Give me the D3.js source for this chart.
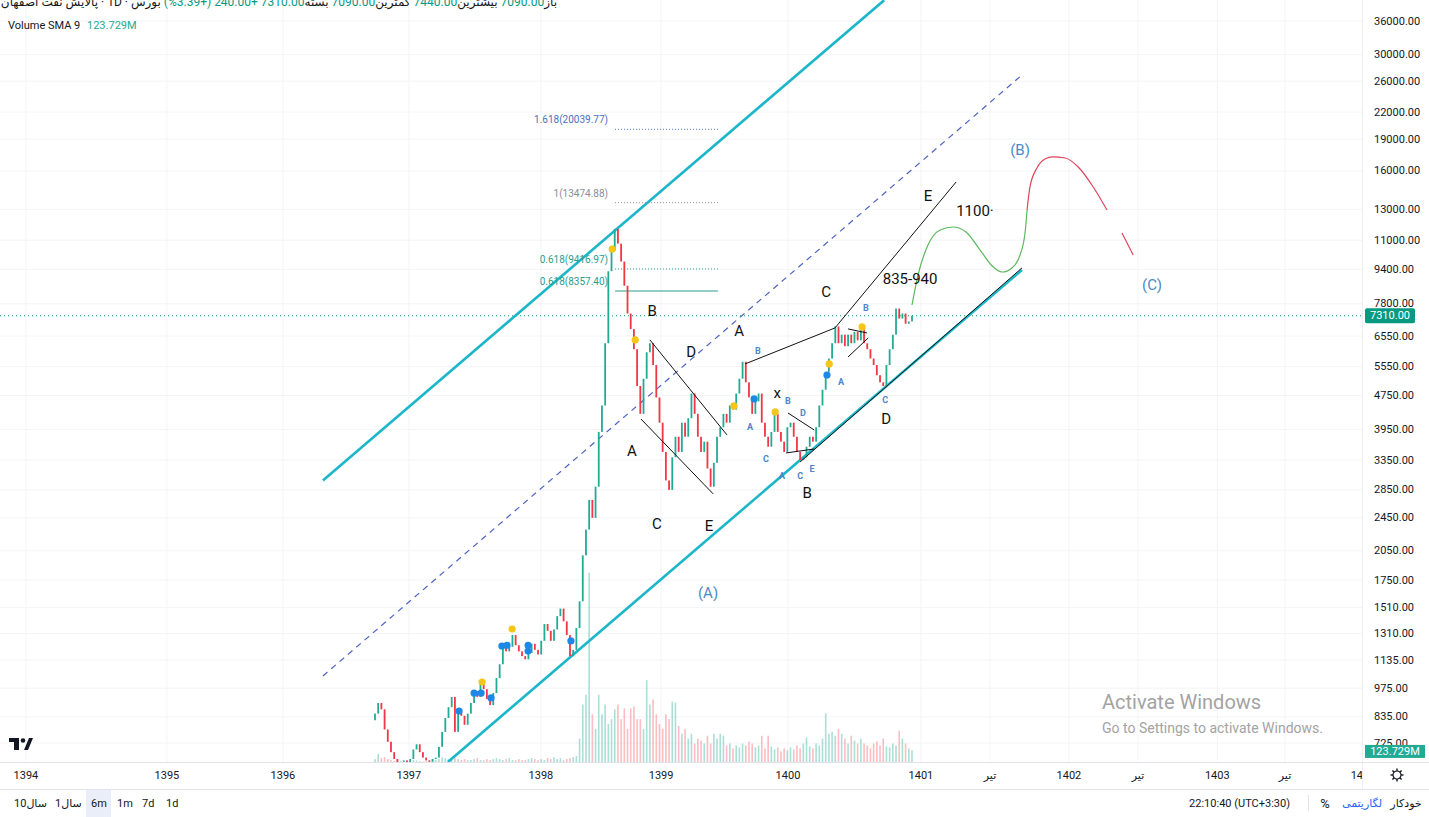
<!DOCTYPE html>
<html lang="fa">
<head>
<meta charset="UTF-8">
<title>پالایش نفت اصفهان</title>
<script src="https://cdn.jsdelivr.net/npm/d3@7"></script>
<style>
  body { margin: 0; background: #fff; overflow: hidden; }
  svg { display: block; font-family: Roboto, "DejaVu Sans", sans-serif; }
  #legend { position: absolute; left: 0; top: -5px; width: 557px; direction: rtl; text-align: right;
            font: 12px Roboto, "DejaVu Sans", sans-serif; color: #131722; white-space: nowrap; }
  #legend .v { color: #089981; }
</style>
</head>
<body>
<svg id="chart" width="1429" height="817"></svg>
<div id="legend"></div>
<script>
// ---- data (bar index = one candle) ----
var closes = [850, 900, 870, 780, 730, 690, 665, 650, 655, 660, 650, 665, 700, 720, 690, 670, 660, 655, 665,
  670, 710, 770, 830, 880, 930, 770, 860, 840, 800, 850, 900, 960, 930, 1010, 970, 920, 890, 950, 1030, 1110,
  1230, 1190, 1220, 1300, 1230, 1190, 1160, 1140, 1180, 1240, 1200, 1170, 1260, 1380, 1330, 1260, 1340, 1440, 1500, 1400,
  1300, 1160, 1200, 1350, 1560, 2000, 2300, 2700, 2450, 2900, 3900, 4500, 6300, 9300, 10400, 11700, 10800, 9800, 8600, 7400,
  6800, 6100, 5000, 4300, 5200, 6000, 6300, 5600, 4700, 4100, 3500, 3000, 2850, 3400, 3800, 3500, 4100, 3800, 4200, 4800,
  4300, 3800, 3500, 3700, 3200, 2900, 3300, 3800, 4000, 4300, 4100, 4500, 4400, 4800, 5200, 5700, 5100, 4700, 4300, 4600,
  4800, 4100, 3800, 3600, 3900, 4300, 3900, 3700, 3500, 4000, 4100, 3800, 3500, 3350, 3400, 3600, 3800, 3700, 4000, 4500,
  4900, 5400, 5800, 6300, 6900, 6300, 6600, 6200, 6600, 6300, 6700, 6400, 6800, 6300, 6100, 5800, 5600, 5300, 5100, 5000,
  5600, 6100, 6600, 7600, 7200, 7400, 7000, 7090, 7310];
var firstOpen = 820;

// volume, millions
var volumes = [40, 90, 50, 60, 40, 30, 20, 20, 15, 20, 25, 20, 30, 25, 20, 15, 20, 25, 30,
  30, 40, 60, 50, 40, 30, 50, 40, 30, 40, 30, 30, 40, 50, 30, 30, 40, 30, 40, 50, 40, 30, 40, 50, 30, 30,
  40, 30, 30, 40, 50, 40, 30, 40, 30, 50, 40, 60, 40, 50, 30, 40, 50, 60, 70,
  250, 600, 700, 1950, 500, 350, 700, 500, 600, 400, 450, 550, 600, 450, 560, 350, 560, 580, 450, 450, 350, 850, 600, 650, 500, 400, 350,
  500, 450, 630, 620, 380, 300, 350, 250, 300, 200, 250, 230, 200, 280, 200, 300, 250, 300, 280, 180, 200, 150, 180, 160, 200, 180,
  220, 200, 160, 180, 280, 150, 280, 170, 140, 160, 120, 150, 130, 160,
  140, 180, 150, 200, 260, 170, 150, 200, 180, 250, 510, 300, 320, 280, 350, 300, 250, 200, 280, 230, 200, 250, 200, 180, 150, 200,
  220, 180, 250, 170, 160, 200, 180, 330, 250, 200, 150, 130];
var volumeSma = 123.729;
var lastPrice = 7310;

var priceTicks = [36000, 30000, 26000, 22000, 19000, 16000, 13000, 11000, 9400, 7800, 6550, 5550, 4750, 3950,
  3350, 2850, 2450, 2050, 1750, 1510, 1310, 1135, 975, 835, 725];
var timeLabels = ['1394', '1395', '1396', '1397', '1398', '1399', '1400', '1401', 'تیر', '1402', 'تیر', '1403', 'تیر', '1404'];
var timeBars = [-109.2, -65.1, -28.8, 10.6, 51.9, 89.5, 129.2, 170.8, 192.4, 217.1, 238.7, 263.5, 284.7, 309.1];

// drawings, [bar, price]
var channel = [
  {from: [-16.3, 3000], to: [159.3, 40300], kind: 'solid'},
  {from: [-16.3, 1042], to: [202.4, 26885], kind: 'dash'},
  {from: [22.8, 654], to: [202.4, 9363], kind: 'solid'}
];
var waveLines = [
  [[86.0, 6415], [110.1, 3838]],
  [[83.2, 4183], [105.8, 2789]],
  [[115.8, 5634], [143.9, 6843]],
  [[143.9, 6843], [181.8, 15073]],
  [[133.0, 3315], [202.4, 9468]],
  [[129.2, 4320], [137.4, 3941]],
  [[128.6, 3481], [137.4, 3556]],
  [[148.0, 6808], [153.9, 6661]],
  [[148.0, 5850], [154.3, 6484]]
];
var pathUp = [[168.0, 7748], [169.9, 9115], [173.0, 10720], [176.8, 11625], [180.9, 11815], [184.9, 11500],
  [189.3, 10430], [193.1, 9570], [196.2, 9263], [199.3, 9468], [201.8, 10156], [203.4, 11500], [204.0, 12953]];
var pathDown = [[204.0, 12953], [204.9, 14670], [207.1, 16258], [209.6, 17068], [212.1, 17255], [215.9, 17160],
  [220.0, 16344], [224.7, 14670], [229.0, 12953]];
var pathDown2 = [[233.7, 11438], [237.2, 10156]];

var fibLabels = ['1.618(20039.77)', '1(13474.88)', '0.618(9416.97)', '0.618(8357.40)'];
var fibPrices = [20039.77, 13474.88, 9416.97, 8357.40];
var fibColors = ['#4a6fc0', '#8a8d96', '#2a9d8f', '#2a9d8f'];
var fibBars = [75.1, 107.3];

var bigLabels = [['E', 173.0, 13973], ['1100·', 187.7, 12885], ['835-940', 167.4, 8921], ['C', 141.1, 8313],
  ['A', 113.9, 6733], ['B', 86.7, 7502], ['D', 98.9, 6009], ['A', 80.4, 3517], ['C', 88.2, 2369],
  ['E', 104.5, 2344], ['x', 125.8, 4813], ['B', 135.2, 2805], ['D', 159.9, 4183]];
var degreeLabels = [['(B)', 201.8, 17917], ['(C)', 243.1, 8633], ['(A)', 104.2, 1632]];
var smallLabels = [['B', 153.6, 7626], ['B', 119.8, 6041], ['A', 145.8, 5109], ['C', 159.6, 4633], ['A', 117.3, 4008],
  ['B', 129.2, 4611], ['D', 133.9, 4320], ['C', 122.3, 3370], ['A', 127.3, 3074], ['C', 133.0, 3074], ['E', 136.7, 3193]];

var yellowDots = [[74.2, 10490], [81.4, 6415], [112.3, 4489], [125.2, 4345], [142.1, 5634], [152.4, 6880], [42.9, 1343], [33.5, 1008]];
var blueDots = [[26.3, 862], [31.0, 950], [33.2, 950], [36.3, 925], [39.7, 1225], [41.3, 1230], [47.9, 1230], [47.9, 1192],
  [61.3, 1259], [118.6, 4662], [141.4, 5306]];

// ---- scales ----
var W = 1429, H = 817, plotR = 1362, plotB = 762;
var x = d3.scaleLinear().domain([0, 168]).range([375, 912]);
var y = d3.scaleLog().domain([725, 36000]).range([743, 21]);
var yv = d3.scaleLinear().domain([0, 2000]).range([763, 568]);

var svg = d3.select('#chart');
svg.append('rect').attr('width', W).attr('height', H).attr('fill', '#fff');
svg.append('defs').append('clipPath').attr('id', 'plot')
  .append('rect').attr('x', 0).attr('y', 0).attr('width', plotR).attr('height', plotB);

var plot = svg.append('g').attr('clip-path', 'url(#plot)');

// grid
plot.selectAll('.hg').data(priceTicks).enter().append('line')
  .attr('x1', 0).attr('x2', plotR).attr('y1', function(d){ return y(d); }).attr('y2', function(d){ return y(d); })
  .attr('stroke', '#f3f4f7').attr('stroke-width', 1);
plot.selectAll('.vg').data(timeBars).enter().append('line')
  .attr('x1', function(d){ return x(d); }).attr('x2', function(d){ return x(d); }).attr('y1', 0).attr('y2', plotB)
  .attr('stroke', '#f3f4f7').attr('stroke-width', 1);

// volume
plot.selectAll('.vol').data(volumes).enter().append('rect')
  .attr('x', function(d, i){ return x(i) - 0.8; })
  .attr('width', 1.6)
  .attr('y', function(d){ return yv(d); })
  .attr('height', function(d){ return yv(0) - yv(d); })
  .attr('fill', function(d, i){
    var o = i ? closes[i - 1] : firstOpen;
    return closes[i] >= o ? 'rgba(34,171,148,0.38)' : 'rgba(242,54,69,0.33)';
  });

// last price line
plot.append('line').attr('x1', 0).attr('x2', plotR).attr('y1', y(lastPrice)).attr('y2', y(lastPrice))
  .attr('stroke', '#089981').attr('stroke-width', 1).attr('stroke-dasharray', '1,3');

// channel
plot.selectAll('.ch').data(channel).enter().append('line')
  .attr('x1', function(d){ return x(d.from[0]); }).attr('y1', function(d){ return y(d.from[1]); })
  .attr('x2', function(d){ return x(d.to[0]); }).attr('y2', function(d){ return y(d.to[1]); })
  .attr('stroke', function(d){ return d.kind == 'dash' ? '#4f63c2' : '#1cb6c9'; })
  .attr('stroke-width', function(d){ return d.kind == 'dash' ? 1.2 : 2.6; })
  .attr('stroke-dasharray', function(d){ return d.kind == 'dash' ? '6,5' : null; });

// fib levels
fibPrices.forEach(function(p, k){
  plot.append('line')
    .attr('x1', x(fibBars[0])).attr('x2', x(fibBars[1]))
    .attr('y1', y(p)).attr('y2', y(p))
    .attr('stroke', fibColors[k]).attr('stroke-width', 1)
    .attr('stroke-dasharray', k == 3 ? null : '1,2');
  plot.append('text')
    .attr('x', x(fibBars[0]) - 7).attr('y', y(p) - 6)
    .attr('text-anchor', 'end').attr('font-size', 10).attr('fill', fibColors[k])
    .text(fibLabels[k]);
});

// candles
plot.selectAll('.c').data(closes).enter().append('rect')
  .attr('x', function(d, i){ return x(i) - 0.9; })
  .attr('width', 1.8)
  .attr('y', function(d, i){ var o = i ? closes[i - 1] : firstOpen; return y(Math.max(o, d)); })
  .attr('height', function(d, i){ var o = i ? closes[i - 1] : firstOpen; return Math.max(1, Math.abs(y(o) - y(d))); })
  .attr('fill', function(d, i){ var o = i ? closes[i - 1] : firstOpen; return d >= o ? '#22ab94' : '#f23645'; });

// wave lines
plot.selectAll('.wl').data(waveLines).enter().append('line')
  .attr('x1', function(d){ return x(d[0][0]); }).attr('y1', function(d){ return y(d[0][1]); })
  .attr('x2', function(d){ return x(d[1][0]); }).attr('y2', function(d){ return y(d[1][1]); })
  .attr('stroke', '#111').attr('stroke-width', 1);

// projection curves
var curve = d3.line().x(function(d){ return x(d[0]); }).y(function(d){ return y(d[1]); }).curve(d3.curveMonotoneX);
plot.append('path').attr('d', curve(pathUp)).attr('fill', 'none').attr('stroke', '#5cb85c').attr('stroke-width', 1.2);
plot.append('path').attr('d', curve(pathDown)).attr('fill', 'none').attr('stroke', '#e0435a').attr('stroke-width', 1.2);
plot.append('path').attr('d', curve(pathDown2)).attr('fill', 'none').attr('stroke', '#e0435a').attr('stroke-width', 1.2);

// dots
plot.selectAll('.yd').data(yellowDots).enter().append('circle')
  .attr('cx', function(d){ return x(d[0]); }).attr('cy', function(d){ return y(d[1]); })
  .attr('r', 3.6).attr('fill', '#f5c518');
plot.selectAll('.bd').data(blueDots).enter().append('circle')
  .attr('cx', function(d){ return x(d[0]); }).attr('cy', function(d){ return y(d[1]); })
  .attr('r', 3.6).attr('fill', '#1e88e5');

// labels
function labels(data, size, color, weight){
  plot.selectAll(null).data(data).enter().append('text')
    .attr('x', function(d){ return x(d[1]); }).attr('y', function(d){ return y(d[2]); })
    .attr('text-anchor', 'middle').attr('dominant-baseline', 'central')
    .attr('font-size', size).attr('font-weight', weight).attr('fill', color)
    .text(function(d){ return d[0]; });
}
labels(bigLabels, 15, '#111', 400);
labels(degreeLabels, 15, '#4a8ac4', 400);
labels(smallLabels, 9, '#4a86c8', 700);

// windows watermark
svg.append('text').attr('x', 1102).attr('y', 709).attr('font-size', 20).attr('fill', '#a3a3a3').text('Activate Windows');
svg.append('text').attr('x', 1102).attr('y', 733).attr('font-size', 14).attr('fill', '#a3a3a3').text('Go to Settings to activate Windows.');

// tradingview logo
var logo = svg.append('g').attr('fill', '#131722');
logo.append('rect').attr('x', 9).attr('y', 738).attr('width', 10).attr('height', 4);
logo.append('rect').attr('x', 14).attr('y', 738).attr('width', 5).attr('height', 12);
logo.append('circle').attr('cx', 23).attr('cy', 740.5).attr('r', 2.3);
logo.append('path').attr('d', 'M24,750 L28,750 L33,738 L29,738 Z');

// right price axis
svg.append('line').attr('x1', plotR + 0.5).attr('x2', plotR + 0.5).attr('y1', 0).attr('y2', 789).attr('stroke', '#eceef2');
svg.selectAll('.pt').data(priceTicks).enter().append('text')
  .attr('x', 1374).attr('y', function(d){ return y(d); }).attr('dominant-baseline', 'central')
  .attr('font-size', 11).attr('fill', '#131722')
  .text(function(d){ return d3.format('.2f')(d); });

svg.append('rect').attr('x', 1365).attr('y', y(lastPrice) - 7.5).attr('width', 50).attr('height', 15).attr('rx', 2).attr('fill', '#089981');
svg.append('text').attr('x', 1390).attr('y', y(lastPrice)).attr('text-anchor', 'middle').attr('dominant-baseline', 'central')
  .attr('font-size', 11).attr('fill', '#fff').text(d3.format('.2f')(lastPrice));
svg.append('rect').attr('x', 1365).attr('y', yv(volumeSma) - 6).attr('width', 60).attr('height', 13).attr('fill', '#22ab94');
svg.append('text').attr('x', 1395).attr('y', yv(volumeSma) + 0.5).attr('text-anchor', 'middle').attr('dominant-baseline', 'central')
  .attr('font-size', 11).attr('fill', '#fff').text(volumeSma + 'M');

// time axis
svg.append('line').attr('x1', 0).attr('x2', W).attr('y1', plotB + 0.5).attr('y2', plotB + 0.5).attr('stroke', '#e0e3eb');
var tAxis = svg.append('g').attr('clip-path', 'url(#taxis)');
svg.select('defs').append('clipPath').attr('id', 'taxis').append('rect').attr('x', 0).attr('y', plotB).attr('width', plotR).attr('height', 27);
tAxis.selectAll('text').data(timeLabels).enter().append('text')
  .attr('x', function(d, i){ return x(timeBars[i]); }).attr('y', 775)
  .attr('text-anchor', 'middle').attr('dominant-baseline', 'central')
  .attr('font-size', 11).attr('fill', '#131722')
  .text(function(d){ return d; });

// gear
var gear = svg.append('g').attr('transform', 'translate(1397,775)').attr('stroke', '#131722').attr('fill', 'none');
gear.append('circle').attr('r', 4).attr('stroke-width', 1.2);
gear.selectAll('line').data(d3.range(8)).enter().append('line')
  .attr('x1', function(d){ return 4 * Math.cos(d * Math.PI / 4); }).attr('y1', function(d){ return 4 * Math.sin(d * Math.PI / 4); })
  .attr('x2', function(d){ return 6.5 * Math.cos(d * Math.PI / 4); }).attr('y2', function(d){ return 6.5 * Math.sin(d * Math.PI / 4); })
  .attr('stroke-width', 1.4);

// bottom toolbar
svg.append('line').attr('x1', 0).attr('x2', W).attr('y1', 789.5).attr('y2', 789.5).attr('stroke', '#e0e3eb');
svg.append('rect').attr('x', 86).attr('y', 790).attr('width', 25).attr('height', 27).attr('fill', '#e9eef8');
var ranges = [['10سال', 14], ['1سال', 55], ['6m', 91], ['1m', 117], ['7d', 142], ['1d', 166]];
svg.selectAll('.rg').data(ranges).enter().append('text')
  .attr('x', function(d){ return d[1]; }).attr('y', 803).attr('dominant-baseline', 'central')
  .attr('font-size', 11).attr('fill', '#131722').text(function(d){ return d[0]; });
svg.append('text').attr('x', 1290).attr('y', 803).attr('text-anchor', 'end').attr('dominant-baseline', 'central')
  .attr('font-size', 11).attr('fill', '#131722').text('22:10:40 (UTC+3:30)');
svg.append('line').attr('x1', 1308.5).attr('x2', 1308.5).attr('y1', 795).attr('y2', 811).attr('stroke', '#e0e3eb');
svg.append('text').attr('x', 1325).attr('y', 803).attr('text-anchor', 'middle').attr('dominant-baseline', 'central')
  .attr('font-size', 13).attr('fill', '#131722').text('%');
svg.append('text').attr('x', 1362).attr('y', 803).attr('text-anchor', 'middle').attr('dominant-baseline', 'central')
  .attr('font-size', 11).attr('fill', '#2962ff').text('لگاریتمی');
svg.append('text').attr('x', 1406).attr('y', 803).attr('text-anchor', 'middle').attr('dominant-baseline', 'central')
  .attr('font-size', 11).attr('fill', '#131722').text('خودکار');

// legend
svg.append('text').attr('x', 8).attr('y', 25).attr('dominant-baseline', 'central').attr('font-size', 11).attr('fill', '#131722')
  .text('Volume SMA 9');
svg.append('text').attr('x', 87).attr('y', 25).attr('dominant-baseline', 'central').attr('font-size', 11).attr('fill', '#22ab94')
  .text(volumeSma + 'M');

var legend = d3.select('#legend');
var ohlc = [['باز', '7090.00'], ['بیشترین', '7440.00'], ['کمترین', '7090.00'], ['بسته', '7310.00']];
ohlc.forEach(function(p){
  legend.append('span').text(p[0]);
  legend.append('span').attr('class', 'v').text(p[1] + ' ');
});
legend.append('span').attr('class', 'v').text('+240.00 (+3.39%) ');
legend.append('span').text('بورس · 1D · پالایش نفت اصفهان');
</script>
</body>
</html>
